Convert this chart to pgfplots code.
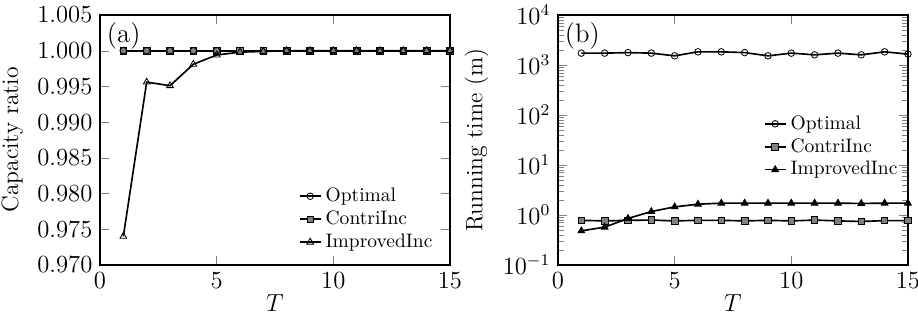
\documentclass[border=0pt]{standalone}
\usepackage{pgfplots}
\pgfplotsset{compat=1.18}
\begin{document}
\begin{tikzpicture}
\pgfplotsset{
  every axis/.append style={
    scale only axis, width=170.4pt, height=121.7pt,
    xmin=0, xmax=15, xtick={0,5,10,15},
    tick align=inside, thick,
    tick label style={font=\fontsize{11.5}{13}\selectfont},
    label style={font=\fontsize{11.5}{13}\selectfont},
    xlabel={$T$},
    xlabel style={yshift=4pt},
    legend style={draw=none, fill=none, font=\fontsize{9.5}{10}\selectfont, row sep=-1pt, inner sep=1pt},
    legend cell align=left,
    legend image code/.code={\draw[mark repeat=2,mark phase=2] plot coordinates {(0cm,0cm)(0.18cm,0cm)(0.36cm,0cm)};},
  },
  myline/.style={black, thick, mark size=1.6pt},
}
\begin{axis}[
  name=a,
  ymin=0.970, ymax=1.005,
  ytick={0.970,0.975,0.980,0.985,0.990,0.995,1.000,1.005},
  scaled y ticks=false,
  yticklabel style={/pgf/number format/.cd, fixed, fixed zerofill, precision=3},
  ylabel={Capacity ratio},
  legend style={at={(0.97,0.03)}, anchor=south east},
]
\addplot[myline, mark=o, mark options={solid, thin, fill=white}] coordinates {(1,1.000)(2,1.000)(3,1.000)(4,1.000)(5,1.000)(6,1.000)(7,1.000)(8,1.000)(9,1.000)(10,1.000)(11,1.000)(12,1.000)(13,1.000)(14,1.000)(15,1.000)};
\addlegendentry{Optimal}
\addplot[myline, mark=square*, mark options={solid, thin, fill=gray}] coordinates {(1,1.000)(2,1.000)(3,1.000)(4,1.000)(5,1.000)(6,1.000)(7,1.000)(8,1.000)(9,1.000)(10,1.000)(11,1.000)(12,1.000)(13,1.000)(14,1.000)(15,1.000)};
\addlegendentry{ContriInc}
\addplot[myline, mark=triangle, mark size=1.9pt, mark options={solid, thin, fill=white}] coordinates {(1,0.974)(2,0.9956)(3,0.9951)(4,0.9981)(5,0.9994)(6,0.9998)(7,0.9999)(8,1.000)(9,1.000)(10,1.000)(11,1.000)(12,1.000)(13,1.000)(14,1.000)(15,1.000)};
\addlegendentry{ImprovedInc}
\addplot[myline, mark=o, mark options={solid, thin, fill=white}, forget plot] coordinates {(1,1.000)(2,1.000)(3,1.000)(4,1.000)(5,1.000)(8,1.000)(9,1.000)(10,1.000)(11,1.000)(12,1.000)(13,1.000)(14,1.000)(15,1.000)};
\node[anchor=north west, font=\fontsize{13}{15}\selectfont, inner sep=3pt] at (rel axis cs:0,1) {(a)};
\end{axis}
\begin{axis}[
  name=b,
  xshift=223pt,
  ymode=log, ymin=0.1, ymax=10000,
  ytick={0.1,1,10,100,1000,10000},
  ylabel={Running time (m)},
  legend style={at={(0.99,0.32)}, anchor=south east},
]
\addplot[myline, mark=o, mark options={solid, thin, fill=white}] coordinates {(1,1726)(2,1726)(3,1770)(4,1726)(5,1524)(6,1833)(7,1833)(8,1770)(9,1524)(10,1726)(11,1596)(12,1726)(13,1596)(14,1833)(15,1650)};
\addlegendentry{Optimal}
\addplot[myline, mark=square*, mark options={solid, thin, fill=gray}] coordinates {(1,0.78)(2,0.76)(3,0.78)(4,0.79)(5,0.76)(6,0.78)(7,0.78)(8,0.76)(9,0.78)(10,0.76)(11,0.79)(12,0.76)(13,0.74)(14,0.77)(15,0.77)};
\addlegendentry{ContriInc}
\addplot[myline, mark=triangle*, mark size=1.9pt, mark options={solid, thin}] coordinates {(1,0.48)(2,0.57)(3,0.85)(4,1.17)(5,1.45)(6,1.64)(7,1.72)(8,1.72)(9,1.72)(10,1.72)(11,1.72)(12,1.72)(13,1.70)(14,1.72)(15,1.72)};
\addlegendentry{ImprovedInc}
\node[anchor=north west, font=\fontsize{13}{15}\selectfont, inner sep=3pt] at (rel axis cs:0,1) {(b)};
\end{axis}
\pgfresetboundingbox
\path ([shift={(-48.7pt,-26.8pt)}]a.south west) rectangle ([shift={(4.9pt,7.3pt)}]b.north east);
\end{tikzpicture}
\end{document}
